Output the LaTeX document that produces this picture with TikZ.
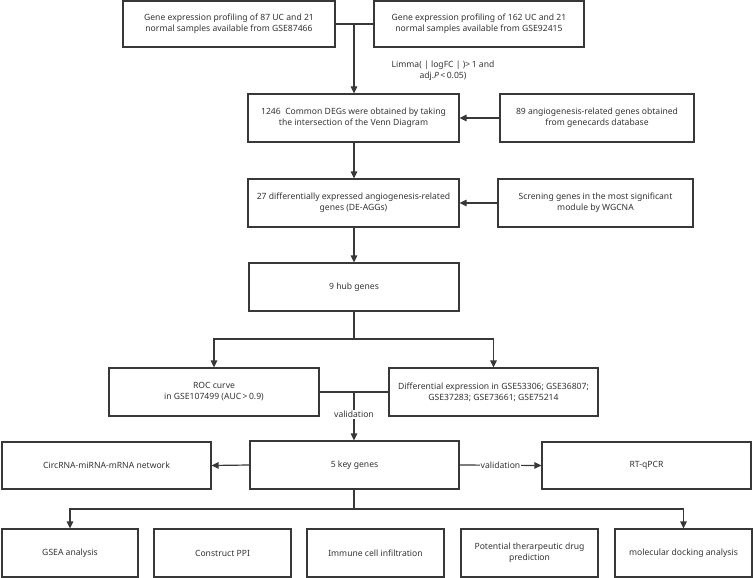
\documentclass[tikz,border=0pt]{standalone}
\usepackage{fontspec}
\setmainfont{Noto Sans}
\usetikzlibrary{arrows.meta}
\begin{document}
\begin{tikzpicture}[x=1pt,y=-1pt,
  box/.style={draw=black!78, line width=1.2pt, align=center, inner sep=2pt,
    font=\fontsize{8.6}{11}\selectfont, text=black!80},
  wire/.style={draw=black!78, line width=1.2pt},
  arr/.style={wire, -{Triangle[length=7pt,width=6.5pt]}},
  lbl/.style={font=\fontsize{8.6}{11}\selectfont, text=black!80, align=center, inner sep=1pt}]
\useasboundingbox (0,0) rectangle (753,578);
% top
\node[box, minimum width=212pt, minimum height=46pt] (b1) at (229,24)
  {Gene expression profiling of 87 UC and 21\\normal samples available from GSE87466};
\node[box, minimum width=210pt, minimum height=46pt] (b2) at (479,24)
  {Gene expression profiling of 162 UC and 21\\normal samples available from GSE92415};
\node[box, minimum width=211pt, minimum height=48pt] (b3) at (353.5,118)
  {1246\ \ Common DEGs were obtained by taking\\the intersection of the Venn Diagram};
\node[box, minimum width=194pt, minimum height=48pt] (b4) at (597,118)
  {89 angiogenesis-related genes obtained\\from genecards database};
\node[box, minimum width=211pt, minimum height=48pt] (b5) at (353.5,203)
  {27 differentially expressed angiogenesis-related\\genes (DE-AGGs)};
\node[box, minimum width=195pt, minimum height=48pt] (b6) at (595.5,203)
  {Screning genes in the most significant\\module by WGCNA};
\node[box, minimum width=210pt, minimum height=48pt] (b7) at (354,287) {9 hub genes};
\node[box, minimum width=210pt, minimum height=48pt] (b8) at (214,392)
  {ROC curve\\in GSE107499 (AUC\,>\,0.9)};
\node[box, minimum width=209pt, minimum height=48pt] (b9) at (493.5,392)
  {Differential expression in GSE53306; GSE36807;\\GSE37283; GSE73661; GSE75214};
\node[box, minimum width=209pt, minimum height=47pt] (b10) at (106.5,465.5) {CircRNA-miRNA-mRNA network};
\node[box, minimum width=209pt, minimum height=48pt] (b11) at (354.5,465) {5 key genes};
\node[box, minimum width=209pt, minimum height=47pt] (b12) at (646.5,465.5) {RT-qPCR};
\node[box, minimum width=136pt, minimum height=48pt] (c1) at (70,553) {GSEA analysis};
\node[box, minimum width=137pt, minimum height=48pt] (c2) at (222.5,553) {Construct PPI};
\node[box, minimum width=137pt, minimum height=48pt] (c3) at (375.5,553) {Immune cell infiltration};
\node[box, minimum width=137pt, minimum height=48pt] (c4) at (529.5,553) {Potential therarpeutic drug\\prediction};
\node[box, minimum width=137pt, minimum height=48pt] (c5) at (683.5,553) {molecular docking analysis};
% junctions
\coordinate (j1) at (354,24);
\coordinate (j2) at (354,339);
\coordinate (j3) at (354,392);
\coordinate (j4) at (354,509);
% connectors
\draw[wire] (b1.east) -- (b2.west);
\draw[arr] (j1) -- (j1 |- b3.north);
\node[lbl] (limma) at (443,71) {Limma( | logFC | )>\,1 and\\adj.\textit{P}\,<\,0.05)};
\draw[arr] (b4.west) -- (b3.east);
\draw[arr] (b3.south -| j1) -- (b5.north -| j1);
\draw[arr] (b6.west) -- (b5.east);
\draw[arr] (b5.south -| j1) -- (b7.north -| j1);
\draw[wire] (b7.south -| j2) -- (j2);
\draw[arr] (j2) -| (b8.north);
\draw[arr] (j2) -| (b9.north);
\draw[wire] (b8.east) -- (b9.west);
\draw[arr] (j3) -- (j3 |- b11.north) node[lbl, pos=0.47, fill=white] (v1) {validation};
\draw[arr] (b11.west) -- (b10.east);
\draw[arr] (b11.east) -- (b12.west) node[lbl, midway, fill=white, inner sep=0.5pt] (v2) {validation};
\draw[wire] (b11.south -| j4) -- (j4);
\draw[arr] (j4) -| (c1.north);
\draw[arr] (j4) -| (c5.north);
\end{tikzpicture}
\end{document}
